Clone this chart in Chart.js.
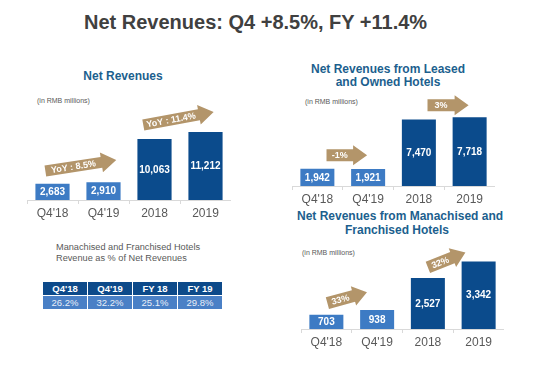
<!DOCTYPE html>
<html><head><meta charset="utf-8">
<script src="https://cdn.jsdelivr.net/npm/chart.js@4"></script>
<style>
body{margin:0;width:537px;height:365px;background:#fff;position:relative;overflow:hidden;font-family:"Liberation Sans",Arial,sans-serif;}
.abs{position:absolute;}
#main{left:84px;top:10px;font-weight:bold;font-size:20px;color:#404040;line-height:24px;white-space:nowrap;}
.ct{font-weight:bold;font-size:12px;color:#1c5f8e;text-align:center;white-space:nowrap;}
.unit{font-size:7px;color:#595959;line-height:8px;white-space:nowrap;}
#note{left:56px;top:242px;font-size:9.2px;line-height:11px;color:#595959;white-space:nowrap;}
#tbl{left:43px;top:282px;display:grid;grid-template-columns:44px 44px 44px 44px;grid-auto-rows:13px;gap:1px;}
#tbl div{display:flex;align-items:center;justify-content:center;font-size:9.5px;color:#fff;}
#tbl .h{background:#0d4a8a;font-weight:bold;}
#tbl .r{background:#4a80c6;color:#e9eff8;}
canvas{position:absolute;}
</style>
</head><body>
<div id="main" class="abs">Net Revenues: Q4 +8.5%, FY +11.4%</div>
<div class="abs ct" style="left:23px;width:200px;top:69px;line-height:14px;">Net Revenues</div>
<div class="abs unit" style="left:37px;top:97px;">(in RMB millions)</div>
<div class="abs ct" style="left:288px;width:200px;top:63px;line-height:13px;">Net Revenues from Leased<br>and Owned Hotels</div>
<div class="abs unit" style="left:305px;top:98px;">(in RMB millions)</div>
<div class="abs ct" style="left:297px;width:200px;top:209px;line-height:14px;">Net Revenues from Manachised and<br>Franchised Hotels</div>
<div class="abs unit" style="left:302px;top:249px;">(in RMB millions)</div>
<div id="note" class="abs">Manachised and Franchised Hotels<br>Revenue as % of Net Revenues</div>
<div id="tbl" class="abs"></div>
<canvas id="c1" width="204" height="135" style="left:27px;top:91px;"></canvas>
<canvas id="c2" width="203" height="127" style="left:292px;top:85px;"></canvas>
<canvas id="c3" width="203" height="127" style="left:301px;top:228px;"></canvas>
<script>
// ---- data ----
const categories = ["Q4'18", "Q4'19", "2018", "2019"];
const netRevenues = [2683, 2910, 10063, 11212];
const leasedOwned = [1942, 1921, 7470, 7718];
const manachisedFranchised = [703, 938, 2527, 3342];
const tableHeaders = ["Q4'18", "Q4'19", "FY 18", "FY 19"];
const tableShares = ["26.2%", "32.2%", "25.1%", "29.8%"];
const growthNet = ["YoY : 8.5%", "YoY : 11.4%"];
const growthLeased = ["-1%", "3%"];
const growthManachised = ["33%", "32%"];

// table
const tbl = document.getElementById('tbl');
tableHeaders.forEach(h => { const d = document.createElement('div'); d.className = 'h'; d.textContent = h; tbl.appendChild(d); });
tableShares.forEach(h => { const d = document.createElement('div'); d.className = 'r'; d.textContent = h; tbl.appendChild(d); });

const LIGHT = '#3d7bc4', DARK = '#0b4b8c', TAN = '#b3956a';
const FONT = '"Liberation Sans", Arial, sans-serif';

function decoPlugin(arrows) {
  return {
    id: 'deco',
    afterDatasetsDraw(chart) {
      const ctx = chart.ctx;
      const meta = chart.getDatasetMeta(0);
      const vals = chart.data.datasets[0].data;
      ctx.save();
      ctx.fillStyle = '#fff';
      ctx.font = 'bold 10px ' + FONT;
      ctx.textAlign = 'center';
      ctx.textBaseline = 'middle';
      meta.data.forEach((bar, i) => {
        ctx.fillText(vals[i].toLocaleString('en-US'), bar.x, (bar.y + bar.base) / 2 + 0.5);
      });
      const xs = chart.scales.x, ys = chart.scales.y;
      arrows.forEach(a => {
        const x0 = xs.getPixelForValue(a.x0), x1 = xs.getPixelForValue(a.x1);
        const y0 = ys.getPixelForValue(a.y0), y1 = ys.getPixelForValue(a.y1);
        const ang = Math.atan2(y1 - y0, x1 - x0);
        const L = Math.hypot(x1 - x0, y1 - y0);
        const bh = a.bh, hh = a.hh, hl = a.hl;
        ctx.save();
        ctx.translate(x0, y0);
        ctx.rotate(ang);
        ctx.fillStyle = TAN;
        ctx.beginPath();
        ctx.moveTo(0, -bh / 2);
        ctx.lineTo(L - hl, -bh / 2);
        ctx.lineTo(L - hl, -hh / 2);
        ctx.lineTo(L, 0);
        ctx.lineTo(L - hl, hh / 2);
        ctx.lineTo(L - hl, bh / 2);
        ctx.lineTo(0, bh / 2);
        ctx.closePath();
        ctx.fill();
        ctx.fillStyle = '#fff';
        ctx.font = 'bold 9px ' + FONT;
        ctx.fillText(a.label, (L - hl) / 2 + (a.tx || 0), 0.5);
        ctx.restore();
      });
      ctx.restore();
    }
  };
}

function makeChart(id, values, ymax, arrows) {
  new Chart(document.getElementById(id), {
    type: 'bar',
    data: {
      labels: categories,
      datasets: [{
        data: values,
        backgroundColor: [LIGHT, LIGHT, DARK, DARK],
        categoryPercentage: 1,
        barPercentage: 0.67,
        borderWidth: 0
      }]
    },
    options: {
      responsive: false,
      animation: false,
      devicePixelRatio: 1,
      layout: { padding: { top: 12, left: 0, right: 0, bottom: 0 } },
      plugins: { legend: { display: false }, tooltip: { enabled: false } },
      scales: {
        x: {
          afterFit: s => { s.height = 26; },
          grid: { drawOnChartArea: false, drawTicks: true, tickLength: 4, color: '#d9d9d9' },
          border: { color: '#d9d9d9' },
          ticks: { color: '#595959', font: { family: FONT, size: 12 }, padding: 2, maxRotation: 0 }
        },
        y: { display: false, min: 0, max: ymax }
      }
    },
    plugins: [decoPlugin(arrows)]
  });
}

makeChart('c1', netRevenues, 16000, [
  { x0: -0.14, x1: 1.25, y0: 4781, y1: 6595, label: growthNet[0], bh: 11, hh: 20, hl: 15 },
  { x0: 1.78, x1: 3.16, y0: 12366, y1: 14510, label: growthNet[1], bh: 11, hh: 20, hl: 15 }
]);
makeChart('c2', leasedOwned, 10000, [
  { x0: 0.18, x1: 0.98, y0: 3468, y1: 3468, label: growthLeased[0], bh: 12, hh: 20, hl: 14 },
  { x0: 2.17, x1: 2.98, y0: 9060, y1: 9060, label: growthLeased[1], bh: 12, hh: 20, hl: 14 }
]);
makeChart('c3', manachisedFranchised, 4400, [
  { x0: 0.02, x1: 0.80, y0: 1278, y1: 1818, label: growthManachised[0], bh: 12, hh: 20, hl: 14 },
  { x0: 2.0, x1: 2.74, y0: 3047, y1: 3784, label: growthManachised[1], bh: 12, hh: 20, hl: 14 }
]);
</script>
</body></html>
